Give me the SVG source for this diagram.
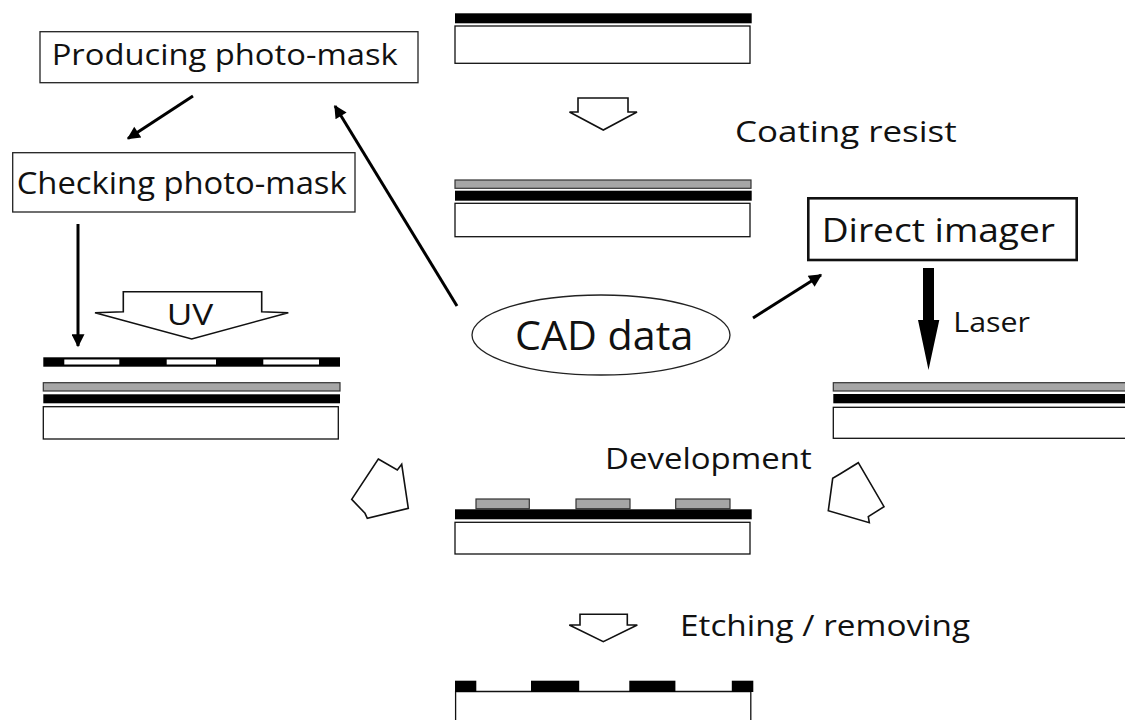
<svg xmlns="http://www.w3.org/2000/svg" width="1125" height="720" viewBox="0 0 1125 720">
<style>
.bg{fill:#ffffff}
.lbl{font-family:"Open Sans",Lato,"Liberation Sans",sans-serif;fill:#111111}
.box{fill:#ffffff;stroke:#222222;stroke-width:1.3}
.boxb{fill:#ffffff;stroke:#111111;stroke-width:2.6}
.sub{fill:#ffffff;stroke:#111111;stroke-width:1.3}
.cu{fill:#000000}
.res{fill:#a6a6a6;stroke:#333333;stroke-width:1.2}
.blk{fill:#ffffff;stroke:#111111;stroke-width:1.6;stroke-linejoin:miter}
.con{stroke:#000000;stroke-width:3;fill:none}
</style>
<defs>
<marker id="ah" viewBox="0 0 10 10" refX="9" refY="5" markerWidth="17" markerHeight="13" markerUnits="userSpaceOnUse" orient="auto">
<path d="M0,0 L10,5 L0,10 z" fill="#000000"/>
</marker>
</defs>
<rect class="bg" x="0" y="0" width="1125" height="720"/>

<g id="producing-photo-mask">
<rect class="box" x="40" y="31.7" width="378" height="51"/>
<text class="lbl" x="51.7" y="65" font-size="30" textLength="346" lengthAdjust="spacingAndGlyphs">Producing photo-mask</text>
</g>

<g id="checking-photo-mask">
<rect class="box" x="12.7" y="152.7" width="342.3" height="59.3"/>
<text class="lbl" x="16.7" y="194.3" font-size="31" textLength="330" lengthAdjust="spacingAndGlyphs">Checking photo-mask</text>
</g>

<g id="direct-imager">
<rect class="boxb" x="808.3" y="198.3" width="268.4" height="61.7"/>
<text class="lbl" x="821.7" y="241.7" font-size="32" textLength="233.3" lengthAdjust="spacingAndGlyphs">Direct imager</text>
</g>

<g id="cad-data">
<ellipse cx="601" cy="335" rx="129" ry="40" fill="#ffffff" stroke="#222222" stroke-width="1.3"/>
<text class="lbl" x="515" y="350" font-size="41" textLength="178.3" lengthAdjust="spacingAndGlyphs">CAD data</text>
</g>

<g id="substrate-bare">
<rect class="cu" x="455" y="13.3" width="296.7" height="10"/>
<rect class="sub" x="455" y="26" width="295" height="37.3"/>
</g>

<g id="coating-resist">
<polygon class="blk" points="578,98 628,98 628,112 637,112 603.3,130 569.5,112 578,112"/>
<text class="lbl" x="735" y="141.7" font-size="30" textLength="221.7" lengthAdjust="spacingAndGlyphs">Coating resist</text>
</g>

<g id="substrate-coated">
<rect class="res" x="455" y="180" width="296" height="8.3"/>
<rect class="cu" x="455" y="190.7" width="296.7" height="10"/>
<rect class="sub" x="455" y="203.3" width="295" height="33.4"/>
</g>

<g id="uv-exposure">
<polygon class="blk" points="123.3,291.7 261.7,291.7 261.7,311.7 288.3,312.7 191.7,339 95,312.7 123.3,311.7"/>
<text class="lbl" x="166.7" y="325" font-size="30" textLength="46.6" lengthAdjust="spacingAndGlyphs">UV</text>
<rect class="cu" x="43.3" y="357.3" width="296.7" height="9.4"/>
<rect x="64.3" y="359.5" width="55" height="5" fill="#ffffff"/>
<rect x="166.7" y="359.5" width="49.3" height="5" fill="#ffffff"/>
<rect x="263.3" y="359.5" width="55.7" height="5" fill="#ffffff"/>
<rect class="res" x="43.3" y="382.7" width="296.7" height="8.3"/>
<rect class="cu" x="43.3" y="394.3" width="296.7" height="9"/>
<rect class="sub" x="43.3" y="406.7" width="295" height="32.3"/>
</g>

<g id="laser-exposure">
<polygon points="923,268 934,268 934,320 939.3,320 928.5,370 918,320 923,320" fill="#000000"/>
<text class="lbl" x="953.3" y="331.7" font-size="28" textLength="76.7" lengthAdjust="spacingAndGlyphs">Laser</text>
<rect class="res" x="833.3" y="382.7" width="300" height="8.3"/>
<rect class="cu" x="833.3" y="394" width="300" height="9.3"/>
<rect class="sub" x="833.3" y="407.3" width="300" height="31"/>
</g>

<g id="development">
<polygon class="blk" points="378.3,459 397.3,470 401.7,464.3 408.3,508.3 367.3,518.3 365,513.3 351.7,499.3"/>
<polygon class="blk" points="858.3,462.7 884,506.7 868.3,516.7 869.3,522.7 828.3,510.7 832.7,478.3 840,474"/>
<text class="lbl" x="605" y="469.3" font-size="30" textLength="206.7" lengthAdjust="spacingAndGlyphs">Development</text>
<rect class="res" x="476" y="499" width="53.3" height="9.7"/>
<rect class="res" x="576" y="499" width="54" height="9.7"/>
<rect class="res" x="675.7" y="499" width="54.3" height="9.7"/>
<rect class="cu" x="455" y="509.3" width="296.7" height="10"/>
<rect class="sub" x="455" y="522.3" width="295" height="31.7"/>
</g>

<g id="etching">
<polygon class="blk" points="580,614.3 627.3,614.3 627.3,625 637.3,625 603.3,641.7 569.3,625 580,625"/>
<text class="lbl" x="680" y="636" font-size="29" textLength="290" lengthAdjust="spacingAndGlyphs">Etching / removing</text>
<path d="M455.6,730 L455.6,691.5 L750.8,691.5 L750.8,730" fill="#ffffff" stroke="#111111" stroke-width="1.3"/>
<rect class="cu" x="455" y="680.7" width="21.3" height="11.3"/>
<rect class="cu" x="531" y="680.7" width="48.2" height="11.3"/>
<rect class="cu" x="629.3" y="680.7" width="46.1" height="11.3"/>
<rect class="cu" x="731.8" y="680.7" width="21.5" height="11.3"/>
</g>

<g id="connectors">
<line class="con" x1="193" y1="96" x2="128" y2="138.5" marker-end="url(#ah)"/>
<line class="con" x1="457" y1="306" x2="335" y2="106" marker-end="url(#ah)"/>
<line class="con" x1="78" y1="224" x2="78" y2="346" marker-end="url(#ah)"/>
<line class="con" x1="753" y1="318" x2="821" y2="275" marker-end="url(#ah)"/>
</g>
</svg>
